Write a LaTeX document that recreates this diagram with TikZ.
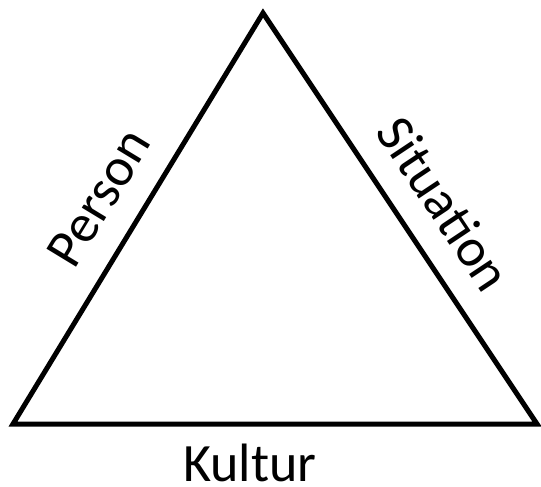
\documentclass[tikz,border=0pt]{standalone}
\usepackage{fontspec}
\setmainfont{Carlito}
\usepackage{tikz}
\usetikzlibrary{positioning}

\begin{document}
\begin{tikzpicture}[x=1pt, y=-1pt, line width=5pt, font=\fontsize{54}{60}\selectfont,
    side/.style={sloped, above=24pt, inner sep=0pt}]
    \useasboundingbox (0,0) rectangle (541,487);
    \coordinate (top) at (263,13);
    \coordinate (left) at (13,424);
    \coordinate (right) at (537,424);
    \draw (left) -- node[side, pos=0.495] (person) {Person} (top)
          -- node[side, pos=0.525] (situation) {Situation} (right)
          -- cycle;
    % label under the base
    \node[anchor=north, inner sep=0pt] (kultur) at (250,442) {Kultur};
\end{tikzpicture}
\end{document}
